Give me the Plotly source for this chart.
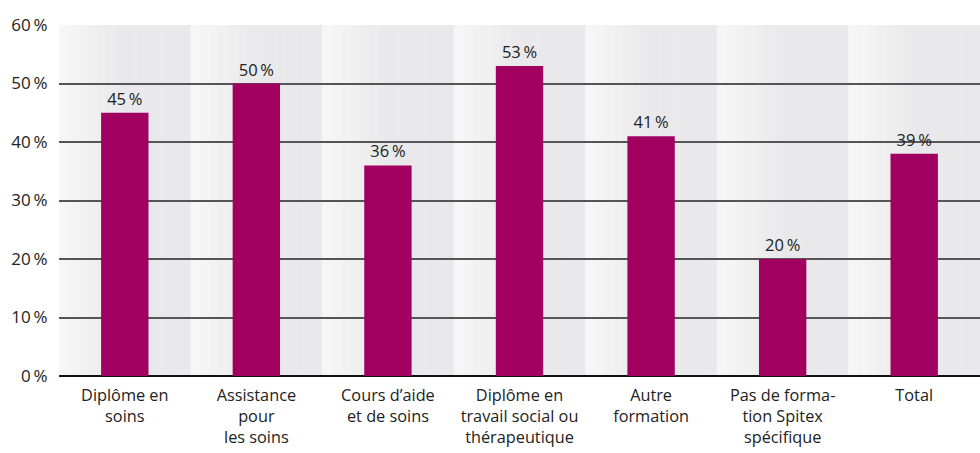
import plotly.graph_objects as go

# data
categories = ["Diplôme en<br>soins", "Assistance<br>pour<br>les soins", "Cours d’aide<br>et de soins",
              "Diplôme en<br>travail social ou<br>thérapeutique", "Autre<br>formation",
              "Pas de forma-<br>tion Spitex<br>spécifique", "Total"]
values = [45, 50, 36, 53, 41, 20, 38]
value_labels = ["45\u2009%", "50\u2009%", "36\u2009%", "53\u2009%", "41\u2009%", "20\u2009%", "39\u2009%"]
y_ticks = [0, 10, 20, 30, 40, 50, 60]
y_ticktext = ["%d\u2009%%" % v for v in y_ticks]

FONT = "Open Sans"
positions = list(range(len(categories)))

fig = go.Figure()

fig.add_trace(go.Bar(
    x=positions,
    y=values,
    text=value_labels,
    textposition="outside",
    cliponaxis=False,
    textfont=dict(size=16.5, color="#222222", family=FONT),
    marker=dict(color="#a20060", line=dict(width=0)),
    width=0.36,
    hoverinfo="skip",
))

# light gradient band behind each category
def mix(c1, c2, t):
    return "rgb(%d,%d,%d)" % tuple(round(a + (b - a) * t) for a, b in zip(c1, c2))

light = (246, 246, 246)
dark = (233, 233, 235)
n_strips = 14
shapes = []
for i in positions:
    for k in range(n_strips):
        t = min(1.0, k / (n_strips * 0.45))
        shapes.append(dict(
            type="rect", xref="x", yref="y", layer="below",
            x0=i - 0.5 + k / n_strips, x1=i - 0.5 + (k + 1) / n_strips + 0.002,
            y0=0, y1=60, line=dict(width=0), fillcolor=mix(light, dark, t),
        ))

fig.update_layout(
    width=980, height=453,
    margin=dict(l=59, r=0, t=25, b=77),
    paper_bgcolor="white", plot_bgcolor="white",
    showlegend=False,
    shapes=shapes,
    font=dict(family=FONT, size=16, color="#222222"),
    xaxis=dict(range=[-0.5, 6.5], tickvals=positions, ticktext=categories,
               showgrid=False, zeroline=False, automargin=False,
               ticks="outside", ticklen=4, tickcolor="rgba(0,0,0,0)",
               tickfont=dict(size=16.3)),
    yaxis=dict(range=[0, 60], tickvals=y_ticks, ticktext=y_ticktext,
               showgrid=True, gridcolor="#555555", gridwidth=1.5,
               zeroline=True, zerolinecolor="#111111", zerolinewidth=2,
               ticks="outside", ticklen=7, tickcolor="rgba(0,0,0,0)",
               automargin=False, tickfont=dict(size=17)),
)

# drop the default 8px body margin so the figure fills the window exactly
fig.write_html("out.html", config={"displayModeBar": False},
               post_script="document.body.style.margin='0';document.body.style.overflow='hidden';")
